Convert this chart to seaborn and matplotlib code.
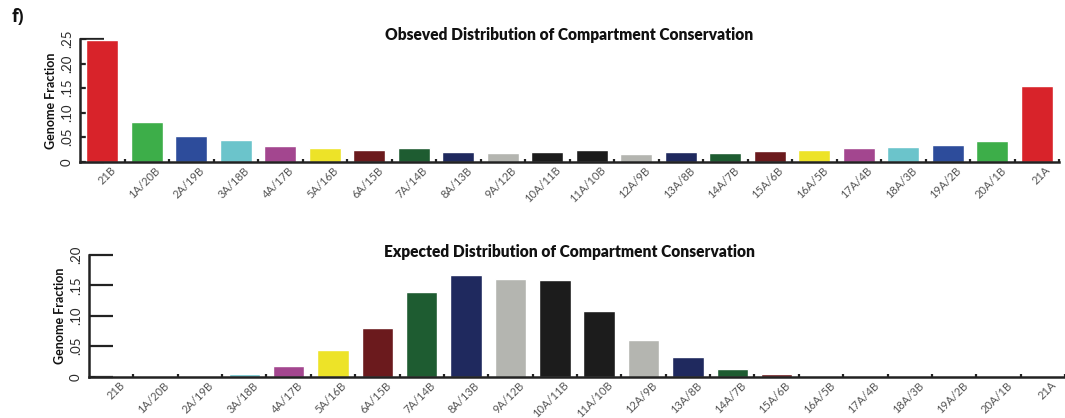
import matplotlib
matplotlib.use("Agg")
import matplotlib.pyplot as plt
import matplotlib.transforms as mtransforms
import seaborn as sns
import pandas as pd

# Compartment conservation classes (A/B counts across 21 samples)
categories = ['21B', '1A/20B', '2A/19B', '3A/18B', '4A/17B', '5A/16B', '6A/15B',
              '7A/14B', '8A/13B', '9A/12B', '10A/11B', '11A/10B', '12A/9B',
              '13A/8B', '14A/7B', '15A/6B', '16A/5B', '17A/4B', '18A/3B',
              '19A/2B', '20A/1B', '21A']

observed = [0.247, 0.081, 0.053, 0.045, 0.033, 0.028, 0.024, 0.027, 0.020,
            0.018, 0.020, 0.023, 0.016, 0.019, 0.018, 0.022, 0.024, 0.027,
            0.030, 0.034, 0.042, 0.155]

expected = [0.0, 0.001, 0.001, 0.0045, 0.018, 0.044, 0.080, 0.139, 0.166,
            0.160, 0.159, 0.108, 0.060, 0.032, 0.012, 0.0045, 0.0015, 0.0,
            0.0, 0.0, 0.0, 0.0]

bar_colors = ['#D8232A', '#3DAE49', '#2D4C9B', '#6BC4CB', '#A3468F', '#EDE328',
              '#6B1A1D', '#1E5C31', '#1F295E', '#B4B5B0', '#1C1C1C', '#1C1C1C',
              '#B4B5B0', '#1F295E', '#1E5C31', '#6B1A1D', '#EDE328', '#A3468F',
              '#6BC4CB', '#2D4C9B', '#3DAE49', '#D8232A']

obs_yticks = [0, 0.05, 0.10, 0.15, 0.20, 0.25]
obs_yticklabels = ['0', '.05', '.10', '.15', '.20', '.25']
exp_yticks = [0, 0.05, 0.10, 0.15, 0.20]
exp_yticklabels = ['0', '.05', '.10', '.15', '.20']

sns.set_style("white")
plt.rcParams['font.family'] = ['Lato', 'DejaVu Sans']

W, H = 1065, 418
fig = plt.figure(figsize=(W / 100, H / 100), dpi=100)

ax1 = fig.add_axes([80 / W, (H - 161.7) / H, 979 / W, 122.7 / H])
ax2 = fig.add_axes([89 / W, (H - 376.7) / H, 976 / W, 122 / H])

palette = dict(zip(categories, bar_colors))
axis_color = '#222222'


def draw_panel(ax, values, yticks, yticklabels, ymax, ypad):
    df = pd.DataFrame({'cls': categories, 'frac': values})
    sns.barplot(data=df, x='cls', y='frac', hue='cls', palette=palette,
                legend=False, width=0.71, saturation=1, ax=ax, zorder=2)
    ax.set_axisbelow(True)
    ax.set_xlim(-0.5, 21.5)
    ax.set_ylim(0, ymax)
    for s in ('top', 'right'):
        ax.spines[s].set_visible(False)
    for s in ('left', 'bottom'):
        ax.spines[s].set_linewidth(1.8)
        ax.spines[s].set_color(axis_color)
        ax.spines[s].set_zorder(3)

    ax.set_yticks(yticks)
    ax.set_yticklabels(yticklabels, rotation=90, va='center', ha='right',
                       fontsize=9.5, color='#2A2A2A')
    ax.tick_params(axis='y', direction='in', length=17.5, width=1.6,
                   color=axis_color, pad=ypad, left=True)

    ax.set_xticks(range(len(categories)))
    ax.set_xticks([i + 0.5 for i in range(len(categories))], minor=True)
    ax.tick_params(axis='x', which='major', length=0, pad=0)
    ax.tick_params(axis='x', which='minor', direction='in', length=2.5,
                   width=1.6, color=axis_color, bottom=True)
    offset = mtransforms.ScaledTranslation(8 / 100, -3 / 100, fig.dpi_scale_trans)
    for lab in ax.get_xticklabels():
        lab.set_rotation(45)
        lab.set_ha('right')
        lab.set_va('top')
        lab.set_rotation_mode('anchor')
        lab.set_fontsize(8.0)
        lab.set_color('#555555')
        lab.set_transform(lab.get_transform() + offset)

    ax.set_xlabel('')
    ax.set_ylabel('Genome Fraction', fontsize=9, fontweight='bold',
                  color='#111111')


draw_panel(ax1, observed, obs_yticks, obs_yticklabels, 0.25, 5)
draw_panel(ax2, expected, exp_yticks, exp_yticklabels, 0.20, 5)
ax1.yaxis.set_label_coords(-0.024, 0.5)
ax2.yaxis.set_label_coords(-0.024, 0.5)

fig.text(569.5 / W, 1 - 35 / H, 'Obseved Distribution of Compartment Conservation',
         ha='center', va='center', fontsize=11.2, fontweight='heavy', color='#111111')
fig.text(570 / W, 1 - 251.7 / H, 'Expected Distribution of Compartment Conservation',
         ha='center', va='center', fontsize=11.2, fontweight='heavy', color='#111111')
fig.text(12 / W, 1 - 17 / H, 'f)', ha='left', va='center', fontsize=12.5,
         fontweight='bold', color='#111111', family=['Open Sans', 'DejaVu Sans'])

fig.savefig('out.png', dpi=100, facecolor='white')
